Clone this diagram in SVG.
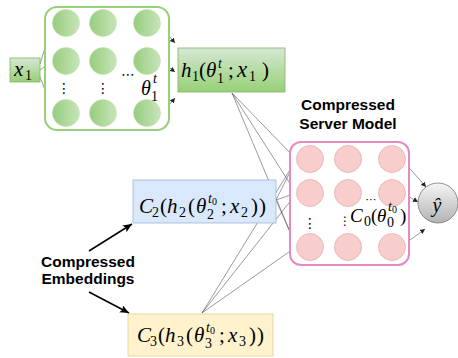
<svg xmlns="http://www.w3.org/2000/svg" width="458" height="358" viewBox="0 0 458 358">
<defs>
<linearGradient id="gv" x1="0" y1="0" x2="0" y2="1"><stop offset="0" stop-color="#d5e8d4"/><stop offset="1" stop-color="#97d077"/></linearGradient>
<linearGradient id="gc" x1="0" y1="0" x2="1" y2="0"><stop offset="0" stop-color="#97cd7e"/><stop offset="1" stop-color="#c8e4ba"/></linearGradient>
<linearGradient id="gy" x1="0" y1="0" x2="0" y2="1"><stop offset="0" stop-color="#f5f5f5"/><stop offset="1" stop-color="#b3b3b3"/></linearGradient>
<marker id="a" markerUnits="userSpaceOnUse" markerWidth="6" markerHeight="6" refX="5" refY="3" orient="auto"><path d="M0,0.5 L5,3 L0,5.5 Z" fill="#222"/></marker>
<marker id="b" markerUnits="userSpaceOnUse" markerWidth="10" markerHeight="10" refX="9" refY="4" orient="auto"><path d="M0,0 L9,4 L0,8 L2,4 Z" fill="#000"/></marker>
</defs>
<style>
.m{font-family:"Liberation Serif",serif;font-size:21px;fill:#000}
.i{font-style:italic}
.s{font-size:14px}
.ss{font-size:10px}
.lbl{font-family:"Liberation Sans",Arial,sans-serif;font-weight:bold;font-size:15.5px;fill:#000;text-anchor:middle}
.dot{font-family:"DejaVu Sans",sans-serif;font-size:14px;fill:#000;text-anchor:middle}
.gc{fill:url(#gc);stroke:#b9e0a5;stroke-width:0.5}
.pc{fill:#f8cecc;stroke:#e3a9a8;stroke-width:0.7}
.t{stroke:#555;stroke-width:0.6;fill:none;marker-end:url(#a)}
.k{stroke:#000;stroke-width:1.5;fill:none;marker-end:url(#b)}
</style>
<g id="connectors">
<path class="t" d="M40,64 L52,25"/>
<path class="t" d="M40,70 L52,61"/>
<path class="t" d="M40,77 L52,108"/>
<path class="t" d="M79,23 L89,23"/><path class="t" d="M79,23 L89,61"/><path class="t" d="M79,23 L89,111"/>
<path class="t" d="M79,61 L89,23"/><path class="t" d="M79,61 L89,61"/><path class="t" d="M79,61 L89,111"/>
<path class="t" d="M79,113 L89,25"/><path class="t" d="M79,113 L89,63"/><path class="t" d="M79,113 L89,113"/>
<path class="t" d="M162,28 L175,43"/>
<path class="t" d="M162,62 L175,72"/>
<path class="t" d="M162,114 L175,98"/>
<path class="t" d="M232,93 L296,159"/><path class="t" d="M232,93 L296,193"/><path class="t" d="M232,93 L296,246"/>
<path class="t" d="M276,200 L296,160"/><path class="t" d="M276,200 L296,193"/><path class="t" d="M276,200 L296,246"/>
<path class="t" d="M202,313 L296,160"/><path class="t" d="M202,313 L296,194"/><path class="t" d="M202,313 L296,247"/>
<path class="t" d="M405,163 L426,187"/>
<path class="t" d="M406,195 L418,202"/>
<path class="t" d="M406,243 L425,229"/>
<path class="k" d="M89,251 L132,224"/>
<path class="k" d="M89,292 L129,313"/>
</g>
<g id="client">
<rect x="45" y="7" width="124" height="123" rx="12" fill="#fff" stroke="#97d077" stroke-width="2"/>
<circle class="gc" cx="66" cy="23" r="13.5"/><circle class="gc" cx="103" cy="23" r="13.5"/><circle class="gc" cx="147" cy="23" r="13.5"/>
<circle class="gc" cx="66" cy="61" r="13.5"/><circle class="gc" cx="103" cy="61" r="13.5"/><circle class="gc" cx="147" cy="61" r="13.5"/>
<circle class="gc" cx="66" cy="113" r="13.5"/><circle class="gc" cx="103" cy="113" r="13.5"/><circle class="gc" cx="147" cy="113" r="13.5"/>
<text class="dot" x="64" y="93">⋮</text>
<text class="dot" x="103" y="93">⋮</text>
<text class="dot" x="128" y="79">⋯</text>
<text class="m" style="font-size:20px"><tspan class="i" x="141" y="95">θ</tspan><tspan class="i s" x="153" y="83">t</tspan><tspan class="s" x="151" y="101">1</tspan></text>
</g>
<g id="x1">
<rect x="10" y="58" width="30" height="24" fill="url(#gv)" stroke="#82b366" stroke-width="0.8"/>
<text class="m"><tspan class="i" x="14" y="76">x</tspan><tspan class="s" x="25" y="80">1</tspan></text>
</g>
<g id="h1">
<rect x="178" y="48" width="107" height="44" fill="url(#gv)" stroke="#82b366" stroke-width="0.8"/>
<text class="m"><tspan class="i" x="181" y="77">h</tspan><tspan class="s" x="192" y="81">1</tspan><tspan x="199" y="77">(</tspan><tspan class="i" x="206" y="77">θ</tspan><tspan class="i s" x="218" y="68">t</tspan><tspan class="s" x="217" y="83">1</tspan><tspan x="228" y="77">;</tspan><tspan class="i" x="237" y="77" style="font-size:23px">x</tspan><tspan class="s" x="249" y="81">1</tspan><tspan x="262" y="77">)</tspan></text>
</g>
<g id="c2">
<rect x="133" y="180" width="143" height="43" fill="#dae8fc" stroke="#9fb6d8" stroke-width="0.8"/>
<text class="m"><tspan class="i" x="139" y="213">C</tspan><tspan class="s" x="152" y="217">2</tspan><tspan x="160" y="213">(</tspan><tspan class="i" x="167" y="213">h</tspan><tspan class="s" x="179" y="217">2</tspan><tspan x="188" y="213">(</tspan><tspan class="i" x="196" y="213">θ</tspan><tspan class="i s" x="208" y="203">t</tspan><tspan class="ss" x="212" y="205">0</tspan><tspan class="s" x="207" y="219">2</tspan><tspan x="221" y="213">;</tspan><tspan class="i" x="230" y="213">x</tspan><tspan class="s" x="241" y="217">2</tspan><tspan x="251" y="213">)</tspan><tspan x="259" y="213">)</tspan></text>
</g>
<g id="c3">
<rect x="128" y="314" width="145" height="42" fill="#fff2cc" stroke="#e3cf8f" stroke-width="0.8"/>
<text class="m"><tspan class="i" x="137" y="342">C</tspan><tspan class="s" x="150" y="346">3</tspan><tspan x="158" y="342">(</tspan><tspan class="i" x="165" y="342">h</tspan><tspan class="s" x="177" y="346">3</tspan><tspan x="186" y="342">(</tspan><tspan class="i" x="194" y="342">θ</tspan><tspan class="i s" x="206" y="332">t</tspan><tspan class="ss" x="210" y="334">0</tspan><tspan class="s" x="205" y="348">3</tspan><tspan x="219" y="342">;</tspan><tspan class="i" x="228" y="342">x</tspan><tspan class="s" x="239" y="346">3</tspan><tspan x="249" y="342">)</tspan><tspan x="257" y="342">)</tspan></text>
</g>
<g id="server">
<rect x="290" y="142" width="119" height="123" rx="11" fill="#fff" stroke="#e68ac0" stroke-width="2"/>
<circle class="pc" cx="310" cy="159" r="13.5"/><circle class="pc" cx="348" cy="159" r="13.5"/><circle class="pc" cx="392" cy="159" r="13.5"/>
<circle class="pc" cx="310" cy="193" r="13.5"/><circle class="pc" cx="348" cy="193" r="13.5"/><circle class="pc" cx="392" cy="193" r="13.5"/>
<circle class="pc" cx="310" cy="247" r="13.5"/><circle class="pc" cx="348" cy="247" r="13.5"/><circle class="pc" cx="392" cy="247" r="13.5"/>
<text class="dot" x="310" y="228">⋮</text>
<text class="dot" x="345" y="225" style="font-size:12px">⋮</text>
<text class="dot" x="371" y="203" style="font-size:11px">⋯</text>
<text class="m" style="font-size:19px"><tspan class="i" x="350" y="222">C</tspan><tspan class="s" x="364" y="226">0</tspan><tspan x="371" y="222">(</tspan><tspan class="i" x="377" y="222">θ</tspan><tspan class="i s" x="388" y="211">t</tspan><tspan class="ss" x="392" y="213">0</tspan><tspan class="s" x="387" y="227">0</tspan><tspan x="400" y="222">)</tspan></text>
</g>
<g id="yhat">
<circle cx="438" cy="203" r="20" fill="url(#gy)" stroke="#777" stroke-width="0.8"/>
<text class="m i" x="437" y="212" text-anchor="middle" style="font-size:20px">ŷ</text>
</g>
<g id="labels">
<text class="lbl" x="348" y="110">Compressed</text>
<text class="lbl" x="348" y="129">Server Model</text>
<text class="lbl" x="88" y="267">Compressed</text>
<text class="lbl" x="88" y="284">Embeddings</text>
</g>
</svg>
